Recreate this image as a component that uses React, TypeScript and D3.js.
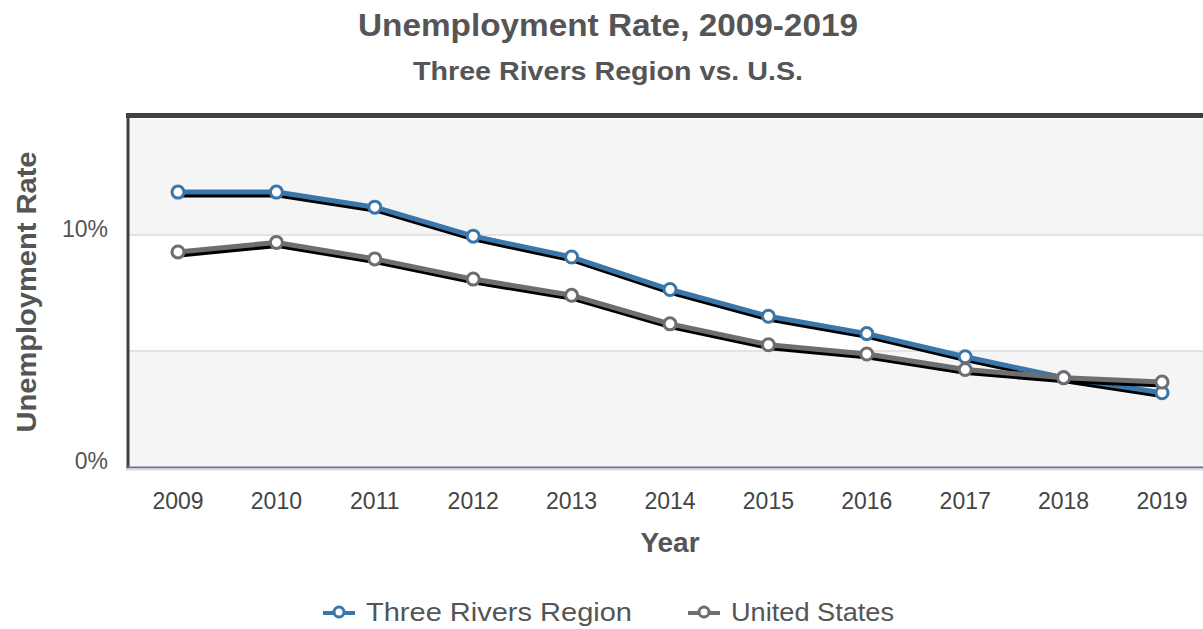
import React from "react";
import * as d3 from "d3";

const years = [2009, 2010, 2011, 2012, 2013, 2014, 2015, 2016, 2017, 2018, 2019];
const threeRivers = [11.85, 11.85, 11.2, 9.95, 9.05, 7.65, 6.5, 5.75, 4.75, 3.85, 3.2];
const unitedStates = [9.27, 9.68, 8.97, 8.1, 7.4, 6.17, 5.27, 4.87, 4.2, 3.85, 3.66];
const yTicks = [0, 10];
const seriesNames = ["Three Rivers Region", "United States"];
const seriesColors = ["#3a76aa", "#6e6e6e"];

const W = 1203;
const H = 629;
const FONT = "'Liberation Sans', Arial, sans-serif";

export default function App() {
  const x = d3.scaleLinear().domain([2009, 2019]).range([178, 1162]);
  const y = d3.scaleLinear().domain([0, 15]).range([467, 119]);
  const plotLeft = 128;
  const plotRight = W + 5;
  const plotTop = 116;
  const bands = [
    { from: 10, to: 15, fill: "#f5f5f5" },
    { from: 5, to: 10, fill: "#ffffff" },
    { from: 0, to: 5, fill: "#f5f5f5" },
  ];
  const line = d3
    .line<number>()
    .x((_, i) => x(years[i]))
    .y((d) => y(d));
  const series = [threeRivers, unitedStates];
  const legendX = [323, 688];
  const legendLen = [266, 163];

  return (
    <svg
      width={W}
      height={H}
      style={{ position: "absolute", left: 0, top: 0, background: "#fff" }}
      fontFamily={FONT}
    >
      {bands.map((b, i) => (
        <rect
          key={i}
          x={plotLeft}
          y={Math.max(plotTop, y(b.to))}
          width={plotRight - plotLeft}
          height={y(b.from) - Math.max(plotTop, y(b.to))}
          fill={b.fill}
        />
      ))}
      {[5, 10].map((v) => (
        <line key={v} x1={plotLeft} x2={plotRight} y1={y(v)} y2={y(v)} stroke="#e3e3e3" strokeWidth={2} />
      ))}
      {/* frame */}
      <line x1={plotLeft - 2} x2={plotRight} y1={plotTop - 0.5} y2={plotTop - 0.5} stroke="#404040" strokeWidth={5} />
      <line x1={plotLeft} x2={plotLeft} y1={plotTop - 3} y2={y(0)} stroke="#404040" strokeWidth={3} />
      <line x1={plotLeft - 2} x2={plotRight} y1={y(0) + 0.5} y2={y(0) + 0.5} stroke="#6b7380" strokeWidth={2} />
      <line x1={plotLeft - 2} x2={plotRight} y1={y(0) + 2.5} y2={y(0) + 2.5} stroke="#d5dcea" strokeWidth={2} />

      {/* y ticks */}
      {yTicks.map((t) => (
        <text key={t} x={108} y={y(t) + 1.5} textAnchor="end" fontSize={23} fill="#555">
          {t}%
        </text>
      ))}
      {/* x ticks */}
      {years.map((yr) => (
        <text key={yr} x={x(yr)} y={509} textAnchor="middle" fontSize={23} fill="#444">
          {yr}
        </text>
      ))}

      {/* series */}
      {series.map((s, si) => (
        <g key={si}>
          <path d={line(s) || ""} transform="translate(1.5,3)" fill="none" stroke="#000" strokeWidth={5} strokeLinejoin="round" />
          <path d={line(s) || ""} fill="none" stroke={seriesColors[si]} strokeWidth={5} strokeLinejoin="round" />
          {s.map((v, i) => (
            <circle key={i} cx={x(years[i])} cy={y(v)} r={6} fill="#fff" stroke={seriesColors[si]} strokeWidth={3} />
          ))}
        </g>
      ))}

      {/* titles */}
      <text x={608} y={36} textAnchor="middle" fontSize={31} fontWeight="bold" fill="#555" textLength={500} lengthAdjust="spacingAndGlyphs">
        Unemployment Rate, 2009-2019
      </text>
      <text x={608} y={80} textAnchor="middle" fontSize={25} fontWeight="bold" fill="#555" textLength={390} lengthAdjust="spacingAndGlyphs">
        Three Rivers Region vs. U.S.
      </text>
      <text
        transform={`translate(36,${292}) rotate(-90)`}
        textAnchor="middle"
        fontSize={28}
        fontWeight="bold"
        fill="#555"
        textLength={281}
        lengthAdjust="spacingAndGlyphs"
      >
        Unemployment Rate
      </text>
      <text x={670} y={552} textAnchor="middle" fontSize={28} fontWeight="bold" fill="#555">
        Year
      </text>

      {/* legend */}
      {seriesNames.map((name, i) => {
        const lx = legendX[i];
        return (
          <g key={name}>
            <line x1={lx} x2={lx + 32} y1={613} y2={613} stroke={seriesColors[i]} strokeWidth={4} />
            <circle cx={lx + 16} cy={612} r={5} fill="#fff" stroke={seriesColors[i]} strokeWidth={3} />
            <text x={lx + 43} y={621} fontSize={25} fill="#555" textLength={legendLen[i]} lengthAdjust="spacingAndGlyphs">
              {name}
            </text>
          </g>
        );
      })}
    </svg>
  );
}
